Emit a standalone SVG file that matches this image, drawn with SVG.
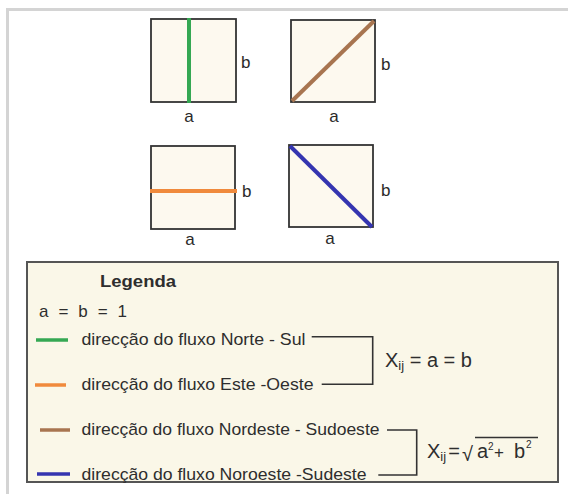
<svg xmlns="http://www.w3.org/2000/svg" width="568" height="494" viewBox="0 0 568 494">
<defs>
<style>
.frame{fill:#ffffff;stroke:#d4d4d4;stroke-width:3}
.sq{fill:#fdf9ef;stroke:#333333;stroke-width:1.8}
.lbl{font-family:"Liberation Sans",Arial,sans-serif;font-size:17px;fill:#2a2a2a}
.txt{font-family:"Liberation Sans",Arial,sans-serif;font-size:17px;fill:#2e2e2e}
.big{font-family:"Liberation Sans",Arial,sans-serif;font-size:20px;fill:#2e2e2e}
.legbox{fill:#faf7e8;stroke:#555555;stroke-width:2}
.br{fill:none;stroke:#333333;stroke-width:1.6}
.g{stroke:#35a853}
.o{stroke:#f08a3c}
.bn{stroke:#a87550}
.bl{stroke:#3535b0}
.flow{stroke-width:4;stroke-linecap:butt}
.key{stroke-width:3.5}
</style>
</defs>
<rect class="frame" x="7.5" y="9.5" width="600" height="600"/>

<g id="square-ns">
<rect class="sq" x="151" y="19" width="85" height="83"/>
<line class="flow g" x1="189" y1="18" x2="189" y2="103"/>
<text class="lbl" x="241" y="68">b</text>
<text class="lbl" x="189" y="122" text-anchor="middle">a</text>
</g>

<g id="square-ne-sw">
<rect class="sq" x="291" y="20" width="84" height="82"/>
<line class="flow bn" x1="292" y1="101" x2="374" y2="21"/>
<text class="lbl" x="381" y="70">b</text>
<text class="lbl" x="334" y="122" text-anchor="middle">a</text>
</g>

<g id="square-ew">
<rect class="sq" x="151" y="146" width="84" height="83"/>
<line class="flow o" x1="150" y1="191" x2="237" y2="191"/>
<text class="lbl" x="242" y="197">b</text>
<text class="lbl" x="190" y="245" text-anchor="middle">a</text>
</g>

<g id="square-nw-se">
<rect class="sq" x="289" y="145" width="84" height="82"/>
<line class="flow bl" x1="290" y1="146" x2="372" y2="227"/>
<text class="lbl" x="381" y="196">b</text>
<text class="lbl" x="330" y="244" text-anchor="middle">a</text>
</g>

<g id="legend">
<rect class="legbox" x="27" y="262" width="531" height="220"/>
<text x="100" y="287" font-family="'Liberation Sans',Arial,sans-serif" font-size="17" font-weight="bold" fill="#2e2e2e" textLength="76" lengthAdjust="spacingAndGlyphs">Legenda</text>
<text class="txt" x="39" y="317" textLength="88" lengthAdjust="spacing">a = b = 1</text>
<line class="key g" x1="36" y1="340" x2="68" y2="340"/>
<text class="txt" x="81.5" y="345" textLength="224" lengthAdjust="spacingAndGlyphs">direcção do fluxo Norte - Sul</text>
<line class="key o" x1="35" y1="385" x2="66" y2="385"/>
<text class="txt" x="81.5" y="390" textLength="232" lengthAdjust="spacingAndGlyphs">direcção do fluxo Este -Oeste</text>
<line class="key bn" x1="40" y1="430" x2="70" y2="430"/>
<text class="txt" x="81.5" y="435" textLength="298" lengthAdjust="spacingAndGlyphs">direcção do fluxo Nordeste - Sudoeste</text>
<line class="key bl" x1="37" y1="474" x2="70" y2="474"/>
<text class="txt" x="81.5" y="480" textLength="285" lengthAdjust="spacingAndGlyphs">direcção do fluxo Noroeste -Sudeste</text>
</g>

<g id="formula-1">
<text class="big" x="385" y="367">X<tspan font-size="13" dy="3">ij</tspan><tspan dy="-3"> = a = b</tspan></text>
</g>

<g id="formula-2">
<text class="big" x="427" y="458">X<tspan font-size="13" dy="3">ij</tspan><tspan dy="-3" dx="2">=</tspan></text>
<text class="big" x="462" y="461" font-size="27">√</text>
<line x1="475" y1="437.5" x2="538" y2="437.5" stroke="#333333" stroke-width="1.4"/>
<text class="big" y="458"><tspan x="477">a</tspan><tspan x="488" font-size="10" dy="-8">2</tspan><tspan x="494" font-size="17" dy="8">+</tspan><tspan x="514">b</tspan><tspan x="526" font-size="10" dy="-10">2</tspan></text>
</g>

<g id="connectors">
<polyline class="br" points="311.7,336.7 372.7,336.7 372.7,384.3 321.7,384.3"/>
<polyline class="br" points="387,430 416.7,430 416.7,475 378.3,475"/>
</g>
</svg>
